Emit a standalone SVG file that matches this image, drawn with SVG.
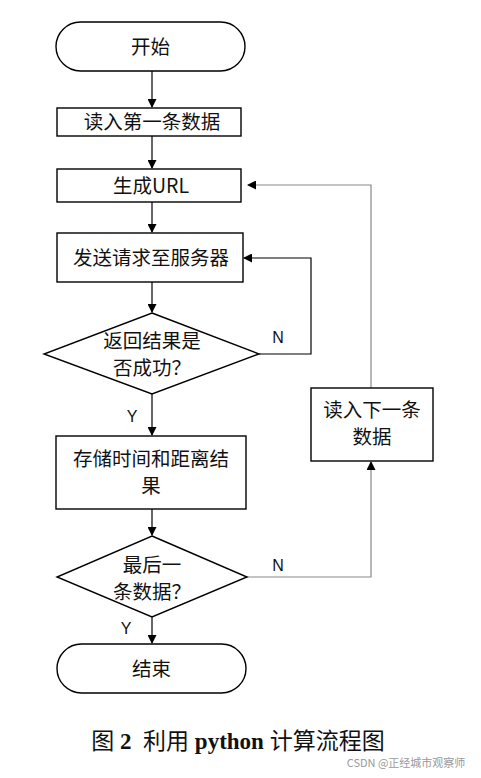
<svg xmlns="http://www.w3.org/2000/svg" width="481" height="778" viewBox="0 0 481 778">
<style>
.s{fill:#fff;stroke:#000;stroke-width:1.4}
.t{font-family:"Noto Sans CJK SC","Liberation Sans",sans-serif;font-size:19.5px;fill:#111;text-anchor:middle}
.l{font-family:"Liberation Sans",sans-serif;font-size:16px;fill:#111;text-anchor:middle}
.c{stroke:#000;stroke-width:1.2;fill:none}
.g{stroke:#888;stroke-width:1.2;fill:none}
</style>
<defs>
<marker id="a" markerWidth="9" markerHeight="9" refX="8" refY="4.5" orient="auto" markerUnits="userSpaceOnUse">
<path d="M0,0 L9,4.5 L0,9 z" fill="#000"/>
</marker>
</defs>
<rect width="481" height="778" fill="#fff"/>
<g id="connectors">
<line class="c" x1="152" y1="71" x2="152" y2="107" marker-end="url(#a)"/>
<line class="c" x1="152" y1="136" x2="152" y2="168" marker-end="url(#a)"/>
<line class="c" x1="152" y1="202" x2="152" y2="232" marker-end="url(#a)"/>
<line class="c" x1="152" y1="282" x2="152" y2="312" marker-end="url(#a)"/>
<line class="c" x1="152" y1="394" x2="152" y2="435" marker-end="url(#a)"/>
<line class="c" x1="152" y1="509" x2="152" y2="535" marker-end="url(#a)"/>
<line class="c" x1="152" y1="617" x2="152" y2="643" marker-end="url(#a)"/>
<polyline class="c" points="259,354 311,354 311,258 244,258" marker-end="url(#a)"/>
<polyline class="g" points="247,577 371,577 371,462" marker-end="url(#a)"/>
<polyline class="g" points="371,388 371,185 248,185" marker-end="url(#a)"/>
<text class="l" x="278" y="343">N</text>
<text class="l" x="132" y="422">Y</text>
<text class="l" x="278" y="571">N</text>
<text class="l" x="126" y="634">Y</text>
</g>
<g id="start">
<rect class="s" x="56" y="22" width="189" height="49" rx="24.5"/>
<text class="t" x="150.5" y="53.5">开始</text>
</g>
<g id="read-first">
<rect class="s" x="57" y="108" width="184" height="28"/>
<text class="t" x="152" y="129">读入第一条数据</text>
</g>
<g id="gen-url">
<rect class="s" x="57" y="169" width="184" height="33"/>
<text class="t" x="151" y="192.5">生成URL</text>
</g>
<g id="send">
<rect class="s" x="57" y="233" width="186" height="49"/>
<text class="t" x="151" y="264.5">发送请求至服务器</text>
</g>
<g id="success">
<polygon class="s" points="152,313 259,354 152,394 44,354"/>
<text class="t"><tspan x="152" y="348">返回结果是</tspan><tspan x="152" y="375">否成功？</tspan></text>
</g>
<g id="store">
<rect class="s" x="56" y="436" width="190" height="73"/>
<text class="t"><tspan x="151" y="466">存储时间和距离结</tspan><tspan x="151" y="493">果</tspan></text>
</g>
<g id="last">
<polygon class="s" points="152,536 247,577 152,617 57,577"/>
<text class="t"><tspan x="152" y="572">最后一</tspan><tspan x="152" y="599">条数据？</tspan></text>
</g>
<g id="read-next">
<rect class="s" x="311" y="388" width="122" height="73"/>
<text class="t"><tspan x="372" y="417">读入下一条</tspan><tspan x="372" y="444">数据</tspan></text>
</g>
<g id="end">
<rect class="s" x="57" y="644" width="189" height="49" rx="24.5"/>
<text class="t" x="151.5" y="675.5">结束</text>
</g>
<text x="238" y="749" text-anchor="middle" font-family="'Liberation Serif','Noto Sans CJK SC',serif" font-size="23" fill="#111" xml:space="preserve">图 <tspan font-weight="bold">2</tspan>  利用 <tspan font-weight="bold">python</tspan> 计算流程图</text>
<text x="406" y="767" text-anchor="middle" font-family="'Noto Sans CJK SC','Liberation Sans',sans-serif" font-size="11" fill="#999">CSDN @正经城市观察师</text>
</svg>
